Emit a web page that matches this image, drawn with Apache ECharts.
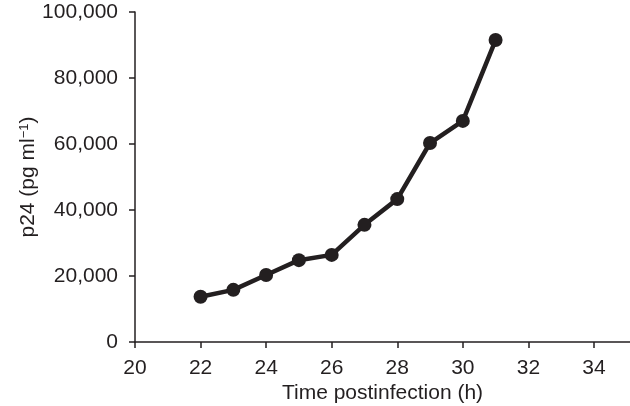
<!DOCTYPE html>
<html>
<head>
<meta charset="utf-8">
<script src="https://cdn.jsdelivr.net/npm/echarts@6/dist/echarts.min.js"></script>
<style>
html,body{margin:0;padding:0;background:#fff;}
#chart{width:630px;height:406px;}
</style>
</head>
<body>
<div id="chart"></div>
<script>
const hours = [22, 23, 24, 25, 26, 27, 28, 29, 30, 31];
const p24 = [13700, 15800, 20300, 24800, 26400, 35500, 43300, 60300, 67000, 91500];
const xTicks = [20, 22, 24, 26, 28, 30, 32, 34];
const yTicks = [0, 20000, 40000, 60000, 80000, 100000];

const ink = '#231f20';
const font = 'Liberation Sans, Arial, Helvetica, sans-serif';
const chart = echarts.init(document.getElementById('chart'), null, {renderer: 'canvas'});
chart.setOption({
  animation: false,
  backgroundColor: '#fff',
  grid: {left: 135, right: 0, top: 12, bottom: 64, containLabel: false, outerBoundsMode: 'none'},
  xAxis: {
    type: 'value', min: 20, max: 35.1,
    name: 'Time postinfection (h)', nameLocation: 'middle', nameGap: 41,
    nameMoveOverlap: false,
    nameTextStyle: {color: ink, fontSize: 21, fontFamily: font},
    axisLine: {show: true, lineStyle: {color: ink, width: 1.5}},
    axisTick: {show: true, inside: false, length: 6, customValues: xTicks, lineStyle: {color: ink, width: 1.5}},
    axisLabel: {show: true, margin: 16, customValues: xTicks, color: ink, fontSize: 21, fontFamily: font},
    splitLine: {show: false}
  },
  yAxis: {
    type: 'value', min: 0, max: 100000, interval: 20000,
    name: 'p24 (pg ml{sup|−1})', nameLocation: 'middle', nameGap: 96, nameRotate: 90,
    nameMoveOverlap: false,
    nameTextStyle: {color: ink, fontSize: 21, fontFamily: font,
      rich: {sup: {fontSize: 13, verticalAlign: 'top', color: ink, fontFamily: font, padding: [0, 0, 8, 0]}}},
    axisLine: {show: true, lineStyle: {color: ink, width: 1.5}},
    axisTick: {show: true, inside: false, length: 6, customValues: yTicks, lineStyle: {color: ink, width: 1.5}},
    axisLabel: {show: true, margin: 17, customValues: yTicks, color: ink, fontSize: 21, fontFamily: font,
      formatter: v => v.toLocaleString('en-US')},
    splitLine: {show: false}
  },
  series: [{
    type: 'line',
    data: hours.map((h, i) => [h, p24[i]]),
    symbol: 'circle', symbolSize: 14,
    lineStyle: {color: ink, width: 4.5},
    itemStyle: {color: ink},
    clip: false
  }]
});
</script>
</body>
</html>
